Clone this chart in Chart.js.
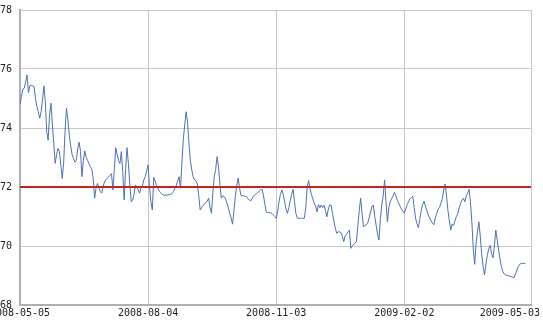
<!DOCTYPE html>
<html>
<head>
<meta charset="utf-8">
<script src="https://cdn.jsdelivr.net/npm/chart.js@4"></script>
<style>
  html, body { margin: 0; padding: 0; background: #fff; }
</style>
</head>
<body>
<canvas id="chart" width="543" height="326"></canvas>
<script>
// daily values, first one is 2008-05-05
const values = [
  74.80, 75.06, 75.32, 75.35, 75.55, 75.80, 75.20, 75.43, 75.45, 75.43,
  75.40, 75.00, 74.72, 74.55, 74.33, 74.55, 74.95, 75.43, 74.89, 73.87,
  73.59, 74.44, 74.84, 74.10, 73.48, 72.80, 73.10, 73.31, 73.20, 72.75,
  72.29, 72.80, 73.87, 74.67, 74.30, 73.76, 73.40, 73.10, 72.97, 72.84,
  72.90, 73.30, 73.52, 73.20, 72.35, 72.90, 73.22, 73.00, 72.90, 72.80,
  72.69, 72.60, 72.30, 71.62, 71.95, 72.12, 71.98, 71.85, 71.79, 72.00,
  72.17, 72.25, 72.30, 72.35, 72.40, 72.45, 71.90, 72.60, 73.33, 73.10,
  72.90, 72.80, 73.20, 72.50, 71.56, 72.60, 73.33, 72.80, 72.10, 71.50,
  71.55, 71.75, 72.07, 72.00, 71.90, 71.79, 72.00, 72.05, 72.25, 72.35,
  72.55, 72.75, 72.00, 71.50, 71.22, 72.33, 72.20, 72.05, 71.95, 71.85,
  71.80, 71.75, 71.73, 71.72, 71.72, 71.73, 71.74, 71.75, 71.78, 71.85,
  71.95, 72.05, 72.20, 72.35, 71.96, 72.80, 73.60, 74.10, 74.55, 74.20,
  73.50, 72.90, 72.58, 72.35, 72.24, 72.21, 72.10, 71.70, 71.22, 71.30,
  71.38, 71.42, 71.48, 71.52, 71.62, 71.30, 71.11, 71.80, 72.35, 72.60,
  73.03, 72.70, 72.10, 71.62, 71.70, 71.68, 71.60, 71.45, 71.30, 71.10,
  70.95, 70.74, 71.20, 71.70, 72.05, 72.30, 71.95, 71.71, 71.70, 71.70,
  71.68, 71.67, 71.60, 71.55, 71.53, 71.62, 71.70, 71.74, 71.78, 71.82,
  71.86, 71.90, 71.92, 71.70, 71.40, 71.14, 71.13, 71.13, 71.14, 71.10,
  71.05, 71.00, 70.94, 71.15, 71.50, 71.75, 71.90, 71.75, 71.50, 71.25,
  71.11, 71.30, 71.55, 71.75, 71.92, 71.50, 71.10, 70.94, 70.94, 70.94,
  70.94, 70.94, 70.94, 71.30, 72.00, 72.22, 71.95, 71.75, 71.60, 71.45,
  71.35, 71.16, 71.40, 71.30, 71.39, 71.30, 71.38, 71.20, 70.99, 71.25,
  71.39, 71.39, 71.10, 70.85, 70.60, 70.43, 70.48, 70.48, 70.45, 70.32,
  70.15, 70.35, 70.40, 70.48, 70.54, 69.92, 70.00, 70.05, 70.10, 70.15,
  70.70, 71.20, 71.62, 71.10, 70.65, 70.70, 70.72, 70.78, 70.95, 71.15,
  71.33, 71.39, 71.00, 70.70, 70.40, 70.20, 70.90, 71.40, 71.70, 72.24,
  71.50, 70.82, 71.30, 71.50, 71.60, 71.70, 71.82, 71.70, 71.55, 71.45,
  71.35, 71.25, 71.18, 71.11, 71.25, 71.40, 71.50, 71.60, 71.64, 71.69,
  71.30, 70.95, 70.75, 70.62, 70.90, 71.20, 71.40, 71.52, 71.35, 71.20,
  71.05, 70.95, 70.85, 70.78, 70.72, 70.95, 71.10, 71.25, 71.30, 71.45,
  71.60, 71.90, 72.10, 71.70, 71.20, 70.85, 70.54, 70.75, 70.70, 70.85,
  71.00, 71.10, 71.30, 71.45, 71.55, 71.62, 71.50, 71.70, 71.80, 71.92,
  71.50, 70.80, 69.90, 69.38, 70.10, 70.50, 70.82, 70.30, 69.70, 69.30,
  69.02, 69.40, 69.70, 69.90, 70.02, 69.75, 69.60, 70.00, 70.54, 70.20,
  69.85, 69.55, 69.30, 69.13, 69.05, 69.02, 69.00, 68.99, 68.98, 68.96,
  68.94, 68.93, 69.05, 69.18, 69.30, 69.38, 69.41, 69.41, 69.41, 69.41
];

// x ticks: days since 2008-05-05
const tickDays = [0, 91, 182, 273, 363];
const tickLabels = ['2008-05-05', '2008-08-04', '2008-11-03', '2009-02-02', '2009-05-03'];
const yTicks = [68, 70, 72, 74, 76, 78];
const refLevel = 72;

const FONT = '10px "DejaVu Sans Mono"';
const GRID = '#c8c8c8';

// x labels drawn by hand so the last one stays inside the canvas
const xLabels = {
  id: 'xLabels',
  afterDraw(chart) {
    const ctx = chart.ctx;
    const sx = chart.scales.x;
    ctx.save();
    ctx.font = FONT;
    ctx.fillStyle = '#222';
    ctx.textBaseline = 'top';
    ctx.textAlign = 'left';
    tickLabels.forEach((t, i) => {
      const w = ctx.measureText(t).width;
      let x = sx.getPixelForValue(tickDays[i]) - w / 2;
      x = Math.min(x, chart.width - w - 3);
      ctx.fillText(t, x, chart.chartArea.bottom + 3);
    });
    ctx.restore();
  }
};

new Chart(document.getElementById('chart'), {
  type: 'line',
  data: {
    datasets: [
      {
        data: values.map((v, i) => ({ x: i, y: v })),
        borderColor: '#4f6fb7',
        borderWidth: 1,
        pointRadius: 0,
        tension: 0,
        order: 2
      },
      {
        data: [{ x: tickDays[0], y: refLevel }, { x: tickDays[tickDays.length - 1], y: refLevel }],
        borderColor: '#c0281e',
        borderWidth: 2,
        pointRadius: 0,
        order: 1
      }
    ]
  },
  options: {
    responsive: false,
    animation: false,
    layout: { autoPadding: false, padding: { top: 10, right: 12, left: 0, bottom: 0 } },
    plugins: { legend: { display: false }, tooltip: { enabled: false } },
    scales: {
      x: {
        type: 'linear',
        min: tickDays[0],
        max: tickDays[tickDays.length - 1],
        afterBuildTicks: s => { s.ticks = tickDays.map(v => ({ value: v })); },
        afterFit: s => { s.height = 21; },
        ticks: { display: false },
        grid: { color: GRID, drawTicks: false },
        border: { color: '#b0b0b0', width: 2 }
      },
      y: {
        min: 68,
        max: 78,
        afterBuildTicks: s => { s.ticks = yTicks.map(v => ({ value: v })); },
        afterFit: s => { s.width = 20; },
        ticks: { font: { family: 'DejaVu Sans Mono', size: 10 }, color: '#222', crossAlign: 'far', padding: 0 },
        grid: { color: GRID, drawTicks: false },
        border: { color: '#b0b0b0', width: 2 }
      }
    }
  },
  plugins: [xLabels]
});
</script>
</body>
</html>
